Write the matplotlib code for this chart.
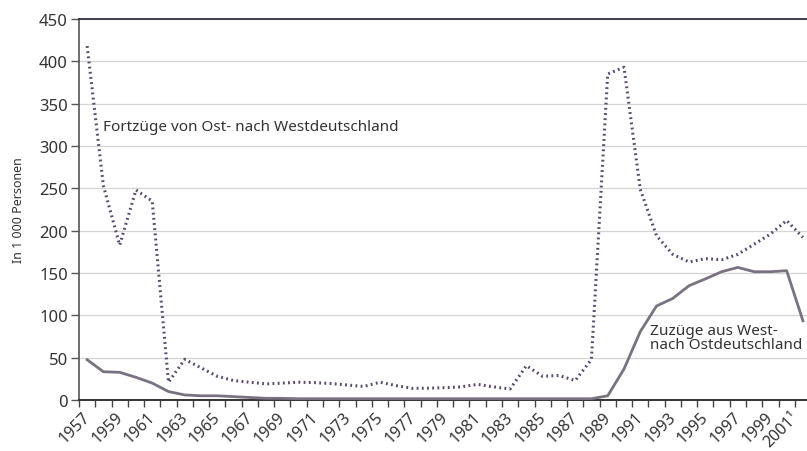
"""
Wanderungen zwischen Ost- und Westdeutschland 1957-2001
"""

import matplotlib.pyplot as plt
import matplotlib.transforms as mtransforms
import numpy as np

plt.rcParams['font.family'] = ['Noto Sans', 'DejaVu Sans']

# Jahre
jahre = list(range(1957, 2002))

# Fortzüge von Ost- nach Westdeutschland (in 1000)
fortzuege = [418, 253, 183, 248, 235, 21, 48, 38, 28, 23,
             21, 19, 20, 21, 20.5, 19.5, 17.7, 16, 21, 17,
             13.8, 14, 14.6, 15.5, 18.5, 15.5, 13, 40.5, 28, 29,
             23, 48, 385, 393, 249, 194, 172, 163, 167, 165.6,
             172, 184, 196, 212, 192]

# Zuzüge aus West- nach Ostdeutschland (in 1000)
zuzuege = [47.6, 33.4, 32.7, 26.8, 20, 10, 6, 5, 5, 4,
           3, 2, 2, 1.5, 1.5, 1.5, 1.5, 1.5, 1.5, 1.5,
           1.5, 1.5, 1.5, 1.5, 1.5, 1.5, 1.5, 1.5, 1.5, 1.5,
           1.5, 1.5, 5, 36.6, 80.7, 111, 120, 135, 143, 151.5,
           156.6, 151.5, 151.5, 152.7, 93.6]

label_jahre = list(range(1957, 2002, 2))
label_texte = [str(j) for j in label_jahre[:-1]] + ['2001¹']

fig = plt.figure(figsize=(8.07, 4.52), dpi=100)
ax = fig.add_axes([0.0979, 0.1128, 0.9021, 0.843])

ax.plot(jahre, fortzuege, color='#5a4a6e', lw=2.2, linestyle=(0, (0.6, 1.1)),
        dash_capstyle='butt', zorder=3)
ax.plot(jahre, zuzuege, color='#7a7280', lw=2.0, zorder=3)

ax.set_xlim(1956.5, 2001.25)
ax.set_ylim(0, 450)
ax.set_yticks(np.arange(0, 451, 50))
ax.yaxis.grid(True, color='#d4d4d4', lw=0.9)
ax.set_axisbelow(True)

# Jahresstriche an den Grenzen, Beschriftung jedes zweite Jahr
ax.set_xticks(label_jahre)
ax.set_xticklabels(label_texte, rotation=45, ha='right', va='top',
                   rotation_mode='anchor', fontsize=11.5, color='#333333')
ax.set_xticks(np.arange(1956.5, 2001.0, 1), minor=True)
ax.tick_params(axis='x', which='major', length=0, pad=6)
ax.tick_params(axis='x', which='minor', length=5, width=1, color='#444444',
               direction='out')
ax.tick_params(axis='y', length=6, width=1, color='#555555', labelsize=12,
               labelcolor='#333333', pad=2)

# Beschriftungen etwas nach links schieben, damit 2001 nicht abgeschnitten wird
lbls = ax.get_xticklabels()
for k, lbl in enumerate(lbls):
    dx = -12 if k == len(lbls) - 1 else -5
    verschiebung = mtransforms.ScaledTranslation(dx / 100, 0, fig.dpi_scale_trans)
    lbl.set_transform(lbl.get_transform() + verschiebung)

ax.spines['right'].set_visible(False)
ax.spines['left'].set_color('#555555')
ax.spines['left'].set_linewidth(1.2)
ax.spines['bottom'].set_color('#333333')
ax.spines['bottom'].set_linewidth(1.4)
ax.spines['top'].set_color('#222233')
ax.spines['top'].set_linewidth(1.2)

ax.set_ylabel('In 1 000 Personen', fontsize=9, color='#333333', labelpad=10)

ax.text(1958.0, 323, 'Fortzüge von Ost- nach Westdeutschland', fontsize=11,
        color='#333333', va='center', ha='left')
ax.text(1991.6, 74, 'Zuzüge aus West-\nnach Ostdeutschland', fontsize=11,
        color='#333333', va='center', ha='left', linespacing=0.95)

plt.savefig('out.png', dpi=100)
plt.close()
